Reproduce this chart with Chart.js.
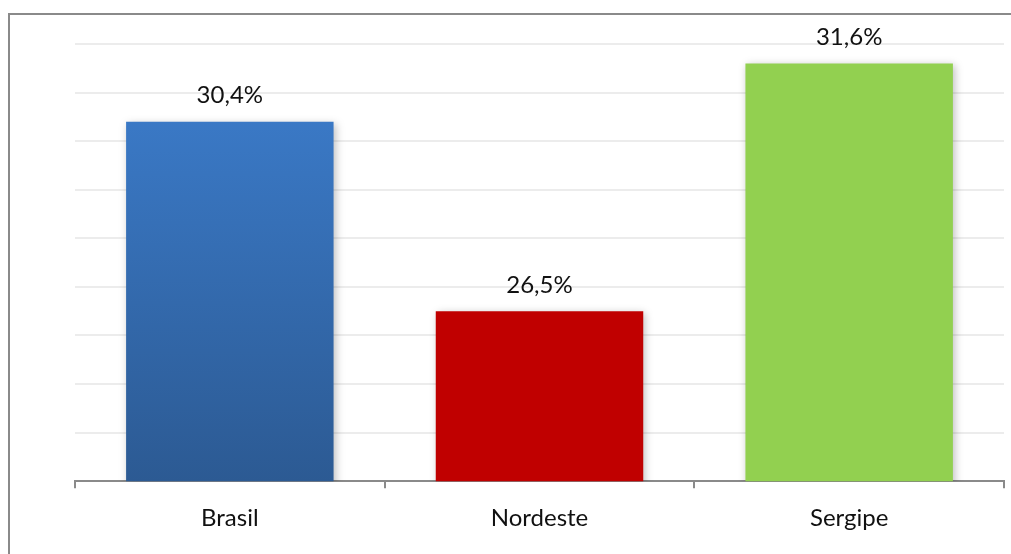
<!DOCTYPE html>
<html>
<head>
<meta charset="utf-8">
<script src="https://cdn.jsdelivr.net/npm/chart.js@4"></script>
<style>
  html, body { margin: 0; padding: 0; background: #fff; }
  #wrap { position: relative; width: 1011px; height: 554px; overflow: hidden; }
  #frame { position: absolute; left: 8px; top: 13px; width: 1100px; height: 700px; border-left: 2px solid #8a8a8a; border-top: 2px solid #8a8a8a; }
  canvas { position: absolute; left: 0; top: 0; }
</style>
</head>
<body>
<div id="wrap">
  <div id="frame"></div>
  <canvas id="myChart" width="1011" height="554"></canvas>
</div>
<script>
// categories and values
var regions = ["Brasil", "Nordeste", "Sergipe"];
var shares = [30.4, 26.5, 31.6];
var barColors = ["#3a7acb", "#c00000", "#92d050"];

// blue bar gets a vertical gradient, the others are flat
function barFill(context) {
  var i = context.dataIndex;
  if (i !== 0) return barColors[i];
  var area = context.chart.chartArea;
  if (!area) return barColors[0];
  var g = context.chart.ctx.createLinearGradient(0, area.top, 0, area.bottom);
  g.addColorStop(0, "#3d7fd0");
  g.addColorStop(1, "#2c5a93");
  return g;
}

// value labels above bars, decimal comma
var valueLabels = {
  id: "valueLabels",
  afterDatasetsDraw: function (chart) {
    var ctx = chart.ctx;
    var meta = chart.getDatasetMeta(0);
    ctx.save();
    ctx.font = "24px Lato, 'Open Sans', sans-serif";
    ctx.fillStyle = "#111";
    ctx.textAlign = "center";
    ctx.textBaseline = "middle";
    meta.data.forEach(function (bar, i) {
      var txt = shares[i].toFixed(1).replace(".", ",") + "%";
      ctx.fillText(txt, bar.x, bar.y - 26);
    });
    ctx.restore();
  },
};

// soft drop shadow under the bars
var barShadow = {
  id: "barShadow",
  beforeDatasetsDraw: function (chart) {
    var ctx = chart.ctx;
    ctx.save();
    ctx.shadowColor = "rgba(0,0,0,0.25)";
    ctx.shadowBlur = 8;
    ctx.shadowOffsetX = 2;
    ctx.shadowOffsetY = 2;
  },
  afterDatasetsDraw: function (chart) {
    chart.ctx.restore();
  },
};

var config = {
  type: "bar",
  data: {
    labels: regions,
    datasets: [
      {
        label: "Participação",
        data: shares,
        backgroundColor: barFill,
        borderWidth: 0,
        categoryPercentage: 1,
        barPercentage: 0.67,
      },
    ],
  },
  options: {
    responsive: false,
    animation: false,
    layout: {
      padding: { left: 75, right: 7, top: 44, bottom: 5 },
    },
    plugins: {
      legend: { display: false },
      tooltip: { enabled: false },
    },
    scales: {
      x: {
        offset: true,
        grid: {
          offset: true,
          drawOnChartArea: false,
          drawTicks: true,
          tickLength: 7,
          color: "#8a8a8a",
          lineWidth: 2,
        },
        border: { color: "#8a8a8a", width: 2 },
        ticks: {
          color: "#111",
          padding: 16,
          font: { size: 24, family: "Lato, 'Open Sans', sans-serif" },
        },
      },
      y: {
        min: 23,
        max: 32,
        ticks: { display: false, stepSize: 1 },
        border: { display: false },
        grid: { color: "#ececec", lineWidth: 2, drawTicks: false },
        afterFit: function (scale) {
          scale.width = 0;
        },
      },
    },
  },
  plugins: [barShadow, valueLabels],
};

const myChart = new Chart(document.getElementById("myChart"), config);
</script>
</body>
</html>
